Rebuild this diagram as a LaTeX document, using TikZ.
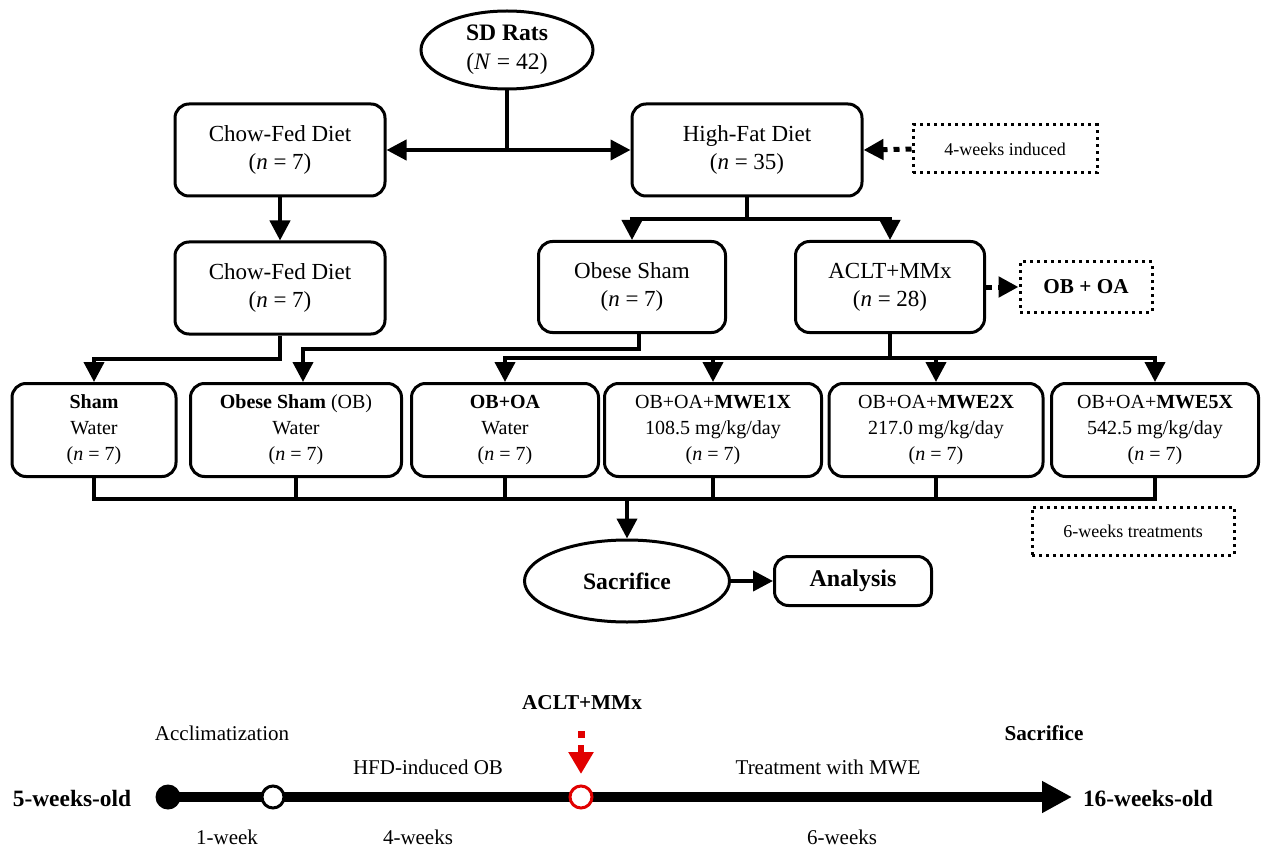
\documentclass[tikz,border=0pt]{standalone}
\usepackage{fontspec}
\setmainfont{Liberation Serif}
\usetikzlibrary{arrows.meta,shapes.geometric,calc}
\definecolor{tlred}{RGB}{225,0,0}
\begin{document}
\begin{tikzpicture}[x=0.5pt,y=-0.5pt,
 box/.style={draw,line width=1.5pt,rounded corners=7pt,align=center,inner sep=0pt,font=\fontsize{11.5}{14}\selectfont},
 sbox/.style={box,font=\fontsize{10}{13}\selectfont},
 dbox/.style={draw,dotted,line width=1.5pt,align=center,inner sep=0pt,font=\fontsize{9}{11}\selectfont},
 oval/.style={draw,ellipse,line width=1.5pt,align=center,inner sep=0pt},
 conn/.style={line width=2pt},
 arr/.style={conn,-{Triangle[length=10pt,width=10pt]}},
 darr/.style={line width=2.5pt,dash pattern=on 3pt off 3pt,-{Triangle[length=10pt,width=10pt]}},
 tl/.style={font=\fontsize{10.5}{12}\selectfont},
 tlb/.style={font=\fontsize{10.6}{12}\selectfont\bfseries},
 tle/.style={font=\fontsize{11.7}{13}\selectfont\bfseries},
]
\useasboundingbox (0,0) rectangle (1268,850);

% top
\node[oval,minimum width=86pt,minimum height=39pt,font=\fontsize{11.8}{14.5}\selectfont] (sd) at (507,50) {\textbf{SD Rats}\\(\textit{N} = 42)};
\node[box,minimum width=105pt,minimum height=46pt] (cf1) at (280,150) {Chow-Fed Diet\\(\textit{n} = 7)};
\node[box,minimum width=115pt,minimum height=46pt] (hf) at (747,150) {High-Fat Diet\\(\textit{n} = 35)};
\node[dbox,minimum width=92pt,minimum height=24pt] (ind) at (1005,149) {4-weeks induced};

\node[box,minimum width=105pt,minimum height=46pt] (cf2) at (280,288) {Chow-Fed Diet\\(\textit{n} = 7)};
\node[box,minimum width=93.5pt,minimum height=45.5pt] (os) at (632,287) {Obese Sham\\(\textit{n} = 7)};
\node[box,minimum width=94.5pt,minimum height=45.5pt] (aclt) at (890,287) {ACLT+MMx\\(\textit{n} = 28)};
\node[dbox,minimum width=66pt,minimum height=25pt,font=\fontsize{10.6}{12}\selectfont\bfseries] (oboa) at (1086,287) {OB + OA};

% row 3
\node[sbox,minimum width=82pt,minimum height=46.5pt] (r1) at (94,430) {\textbf{Sham}\\Water\\(\textit{n} = 7)};
\node[sbox,minimum width=105.5pt,minimum height=46.5pt] (r2) at (296,430) {\textbf{Obese Sham} (OB)\\Water\\(\textit{n} = 7)};
\node[sbox,minimum width=93.5pt,minimum height=46.5pt] (r3) at (505,430) {\textbf{OB+OA}\\Water\\(\textit{n} = 7)};
\node[sbox,minimum width=108.5pt,minimum height=46.5pt] (r4) at (713,430) {OB+OA+\textbf{MWE1X}\\108.5 mg/kg/day\\(\textit{n} = 7)};
\node[sbox,minimum width=107pt,minimum height=46.5pt] (r5) at (936,430) {OB+OA+\textbf{MWE2X}\\217.0 mg/kg/day\\(\textit{n} = 7)};
\node[sbox,minimum width=103.5pt,minimum height=46.5pt] (r6) at (1155,430) {OB+OA+\textbf{MWE5X}\\542.5 mg/kg/day\\(\textit{n} = 7)};

\node[oval,minimum width=102.5pt,minimum height=41pt,font=\fontsize{11.8}{13.5}\selectfont\bfseries] (sac) at (627,581) {Sacrifice};
\node[box,minimum width=78.5pt,minimum height=24.5pt,font=\fontsize{12}{13.5}\selectfont\bfseries] (ana) at (853,581) {Analysis};
\node[dbox,minimum width=101pt,minimum height=24pt] (six) at (1133,531) {6-weeks treatments};

% connectors
\draw[conn] (sd.south) -- (sd.south |- cf1.east);
\draw[conn,{Triangle[length=10pt,width=10pt]}-{Triangle[length=10pt,width=10pt]}] (cf1.east) -- (hf.west);
\draw[darr] (ind.west) -- (hf.east);
\draw[arr] (cf1) -- (cf2);
\draw[conn] (hf.south) -- ++(0,22) coordinate (hfj);
\draw[arr] (hfj) -| (os.north);
\draw[arr] (hfj) -| (aclt.north);
\draw[darr] (aclt.east) -- (oboa.west);

\draw[arr] (cf2.south) -- ++(0,23) -| (r1.north);
\draw[arr] ($(os.south)+(7,0)$) -- ++(0,15) -| ($(r2.north)+(7,0)$);
\draw[conn] (aclt.south) -- ++(0,24) coordinate (aj);
\draw[arr] (aj) -| (r3.north);
\draw[arr] (aj) -| (r4.north);
\draw[arr] (aj) -| (r5.north);
\draw[arr] (aj) -| (r6.north);

\draw[conn] (r1.south) -- ++(0,21) coordinate (bj) -- (bj -| r6.south) -- (r6.south);
\foreach \n in {r2,r3,r4,r5} \draw[conn] (\n.south) -- (\n.south |- bj);
\draw[arr] (bj -| sac.north) -- (sac.north);
\draw[arr] (sac.east) -- (ana.west);

% timeline
\coordinate (t0) at (168,797);
\coordinate (tend) at (1072,797);
\draw[line width=5pt,-{Triangle[length=15pt,width=15pt]}] (t0) -- (tend);
\node[circle,fill=black,inner sep=0pt,minimum size=12.5pt] (c0) at (t0) {};
\node[circle,draw=black,fill=white,line width=1.5pt,inner sep=0pt,minimum size=11pt] (c1) at (273,797) {};
\node[circle,draw=tlred,fill=white,line width=1.5pt,inner sep=0pt,minimum size=11pt] (c2) at (581,797) {};
\fill[tlred] (577.5,731) rectangle (584.5,738);
\coordinate (rs) at (581,745);
\coordinate (rt) at (581,774);
\draw[tlred,line width=3pt,-{Triangle[length=11pt,width=12pt]}] (rs) -- (rt);

\node[tle] (l5) at (72,798) {5-weeks-old};
\node[tle] (l16) at (1148,798) {16-weeks-old};
\node[tl] (lac) at (222,733) {Acclimatization};
\node[tl] (lhfd) at (428,767) {HFD-induced OB};
\node[tlb] (laclt) at (582,703) {ACLT+MMx};
\node[tl] (ltr) at (828,767) {Treatment with MWE};
\node[tlb] (lsac) at (1044,733) {Sacrifice};
\node[tl] (w1) at (227,837) {1-week};
\node[tl] (w4) at (418,837) {4-weeks};
\node[tl] (w6) at (842,837) {6-weeks};
\end{tikzpicture}
\end{document}
